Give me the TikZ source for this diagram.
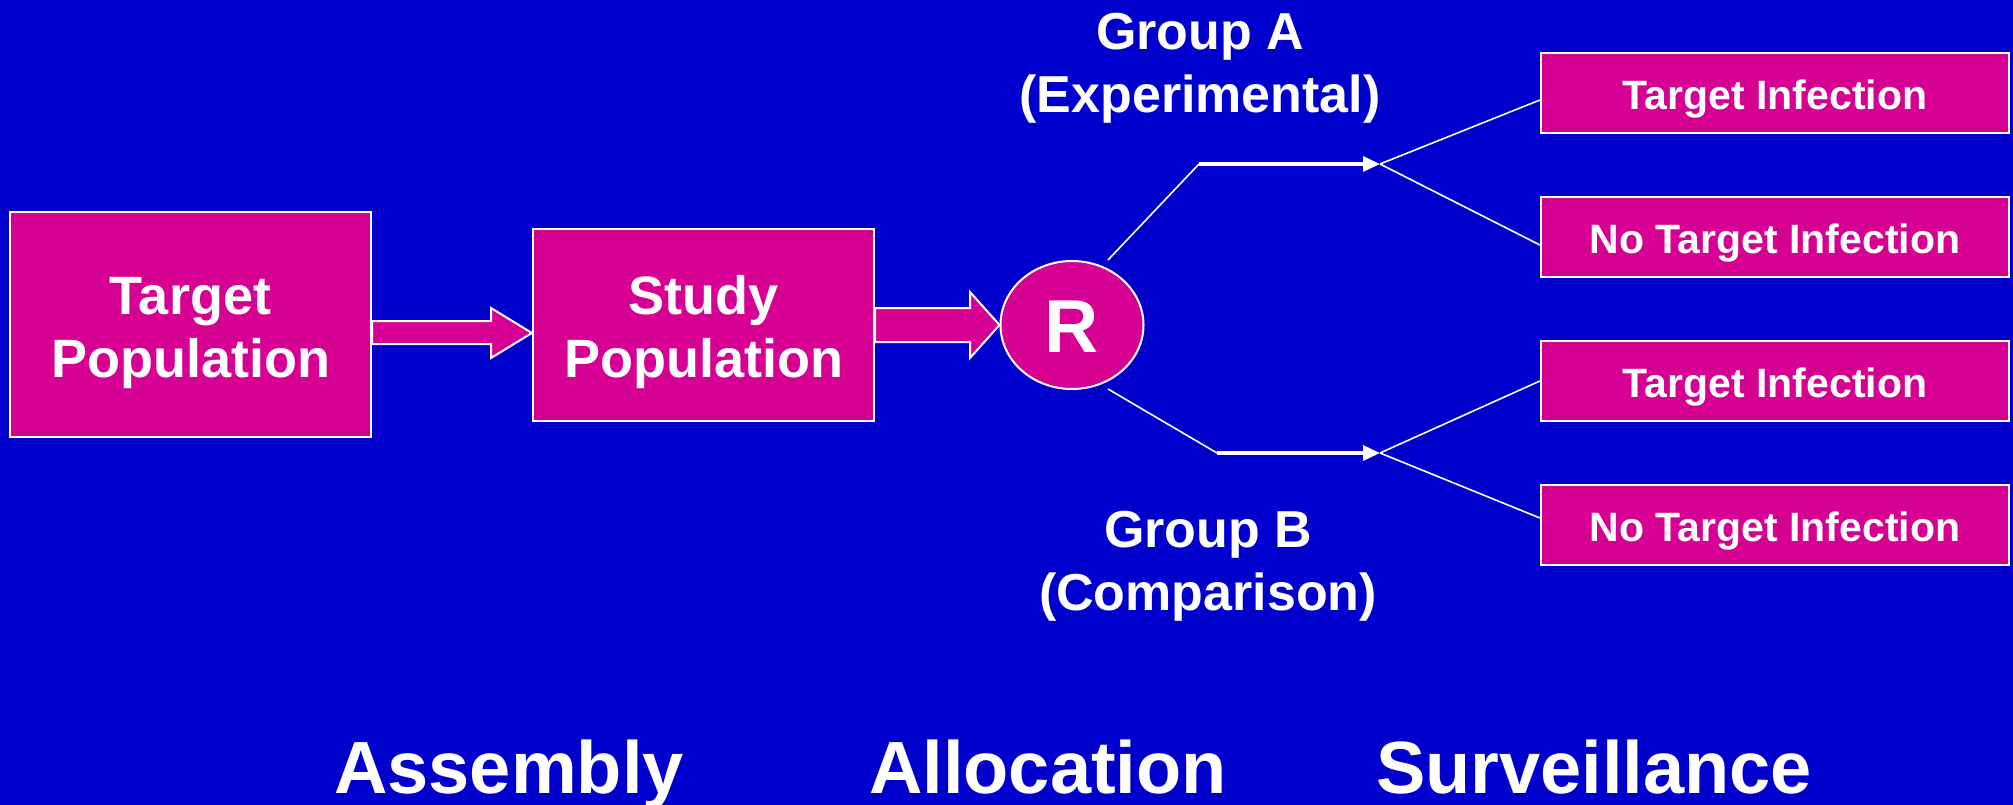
\documentclass[tikz,border=0pt]{standalone}
\usepackage{fontspec}
\setmainfont{Liberation Sans}
\usetikzlibrary{shapes.geometric,arrows.meta,calc}
\definecolor{bgblue}{RGB}{0,0,204}
\definecolor{boxmag}{RGB}{214,0,147}
\newcommand\myfs[2]{\fontsize{#1}{#2}\selectfont}
\begin{document}
\begin{tikzpicture}[x=1pt,y=-1pt,
  bigbox/.style={draw=white,line width=2.2pt,fill=boxmag,text=white,
    font=\bfseries\myfs{54}{63},align=center,inner sep=0pt},
  outbox/.style={draw=white,line width=2.2pt,fill=boxmag,text=white,
    font=\bfseries\myfs{41}{48},minimum width=468pt,minimum height=80pt,
    inner sep=0pt,text height=33pt,text depth=0pt},
  blockarrow/.style={draw=white,line width=2pt,fill=boxmag,line join=miter},
  thinline/.style={draw=white,line width=1.6pt},
  grouparrow/.style={draw=white,line width=3.5pt,-{Triangle[length=17pt,width=15pt]}},
  grouptext/.style={text=white,font=\bfseries\myfs{52}{63},align=center,inner sep=0pt,anchor=north},
  phasetext/.style={text=white,font=\bfseries\myfs{74}{80},inner sep=0pt,anchor=base}
]
\fill[bgblue] (0,0) rectangle (2013,805);
\useasboundingbox (0,0) rectangle (2013,805);

% main boxes
\node[bigbox,minimum width=361pt,minimum height=225pt] (tp) at (190.5,324.5)
  {\rule{0pt}{53.5pt}Target\\Population};
\node[bigbox,minimum width=341pt,minimum height=192pt] (sp) at (703.5,325)
  {\rule{0pt}{53.5pt}Study\\Population};
\node[ellipse,draw=white,line width=2pt,fill=boxmag,text=white,
  font=\bfseries\myfs{75}{80},minimum width=143pt,minimum height=128pt,
  inner sep=0pt,text height=54pt,text depth=0pt] (r) at (1072,325) {R};

% block arrows
\filldraw[blockarrow] ($(tp.east)+(0,-3.5)$) -- (491,321) -- (491,308)
  -- ($(sp.west)+(0,8)$) -- (491,358) -- (491,344) -- ($(tp.east)+(0,19.5)$) -- cycle;
\filldraw[blockarrow] ($(sp.east)+(0,-17)$) -- (970,308) -- (970,292)
  -- (r.west) -- (970,358) -- (970,342) -- ($(sp.east)+(0,17)$) -- cycle;

% outcome boxes
\node[outbox] (tiA) at (1775,93) {Target Infection};
\node[outbox] (nA) at (1775,237) {No Target Infection};
\node[outbox] (tiB) at (1775,381) {Target Infection};
\node[outbox] (nB) at (1775,525) {No Target Infection};

% group A branch
\coordinate (a0) at (1108,260);
\coordinate (a1) at (1199,164);
\coordinate (jA) at (1380,164);
\draw[thinline] (a0) -- (a1);
\draw[grouparrow] (a1) -- (jA);
\draw[thinline] (jA) -- ($(tiA.west)+(0,7)$);
\draw[thinline] (jA) -- ($(nA.west)+(0,8)$);

% group B branch
\coordinate (b0) at (1108,389);
\coordinate (b1) at (1217,453);
\coordinate (jB) at (1380,453);
\draw[thinline] (b0) -- (b1);
\draw[grouparrow] (b1) -- (jB);
\draw[thinline] (jB) -- (tiB.west);
\draw[thinline] (jB) -- ($(nB.west)+(0,-7)$);

% group labels
\node[grouptext] (gA) at (1200,9) {\rule{0pt}{40pt}Group A\\(Experimental)};
\node[grouptext] (gB) at (1208,507) {\rule{0pt}{40pt}Group B\\(Comparison)};

% phase labels
\node[phasetext] (ph1) at (509,793) {Assembly};
\node[phasetext] (ph2) at (1048,793) {Allocation};
\node[phasetext] (ph3) at (1594,793) {Surveillance};
\end{tikzpicture}
\end{document}
